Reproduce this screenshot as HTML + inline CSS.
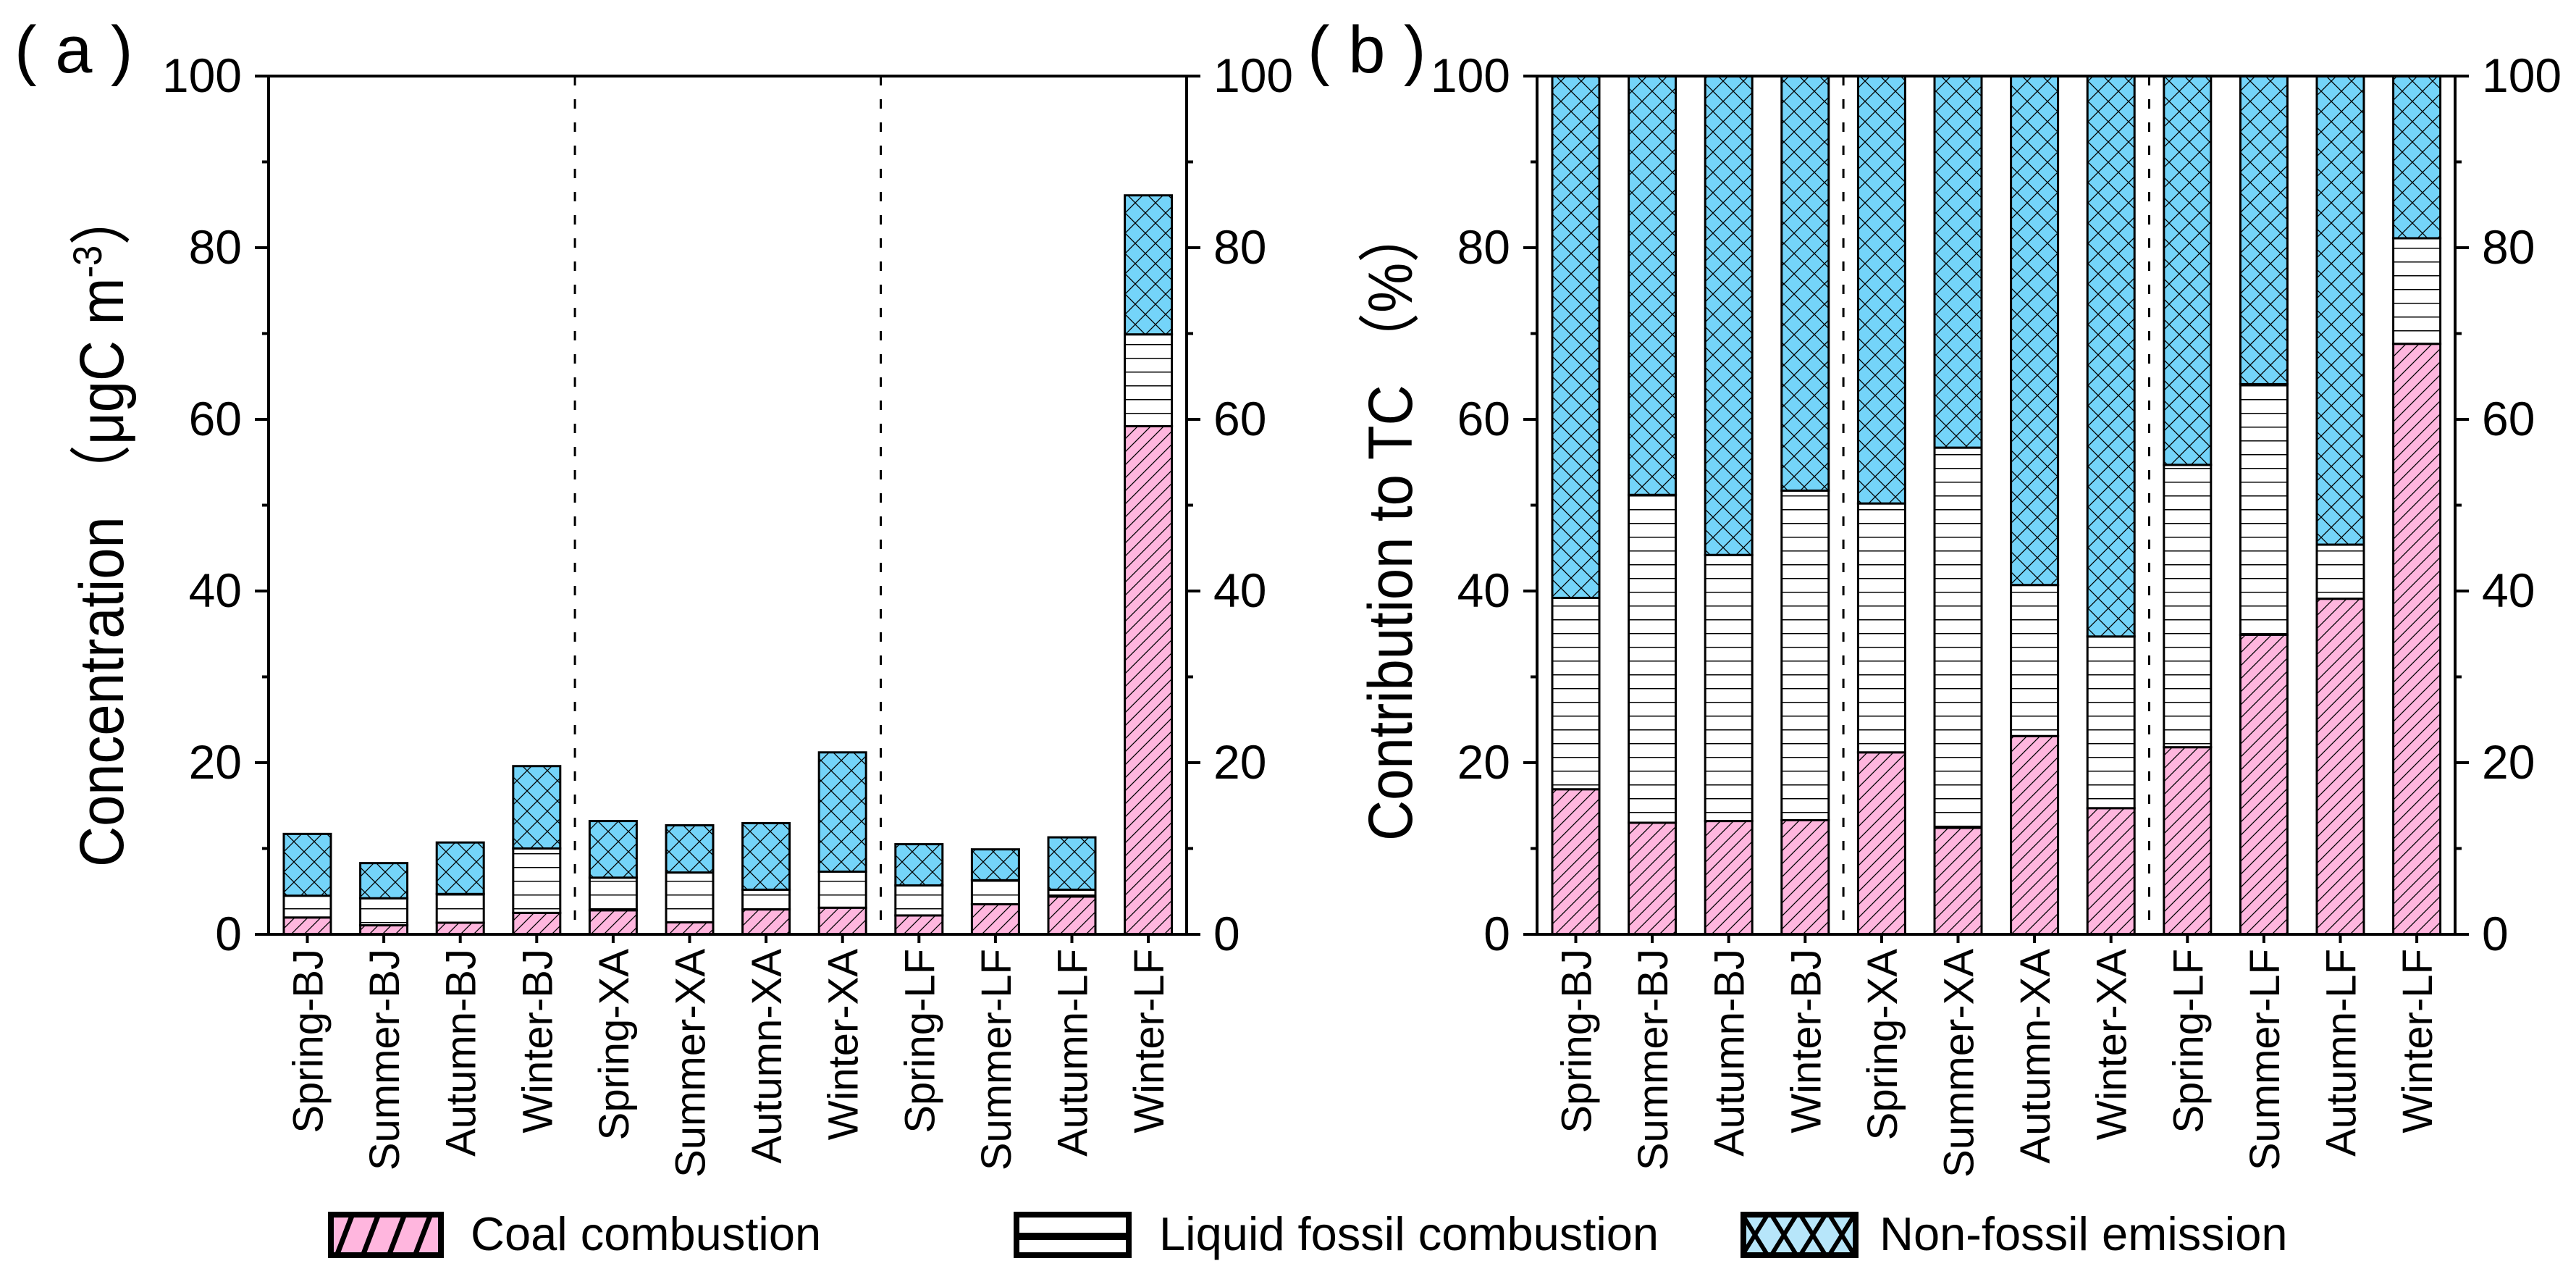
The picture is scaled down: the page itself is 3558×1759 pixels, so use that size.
<!DOCTYPE html>
<html><head><meta charset="utf-8"><style>
html,body{margin:0;padding:0;background:#fff;}
svg{display:block;font-family:"Liberation Sans","Noto Sans CJK SC",sans-serif;}
</style></head><body>
<svg id="chart" xmlns="http://www.w3.org/2000/svg" width="3558" height="1759" viewBox="0 0 3558 1759">
<defs>
<pattern id="pCoal" patternUnits="userSpaceOnUse" width="18" height="18">
<rect width="18" height="18" fill="#FFB6DE"/>
<path d="M-2,20 L20,-2 M-2,2 L2,-2 M16,20 L20,16" stroke="#000" stroke-width="1.3"/>
</pattern>
<pattern id="pLiq" patternUnits="userSpaceOnUse" width="20" height="19">
<rect width="20" height="19" fill="#fff"/>
<line x1="0" y1="0.5" x2="20" y2="0.5" stroke="#000" stroke-width="2"/>
</pattern>
<pattern id="pNon" patternUnits="userSpaceOnUse" width="28" height="28">
<rect width="28" height="28" fill="#74D4F9"/>
<path d="M0,0 L28,28 M28,0 L0,28" stroke="#000" stroke-width="1.3"/>
</pattern>
<pattern id="lgCoal" patternUnits="userSpaceOnUse" width="36" height="64" x="453" y="1673">
<rect width="36" height="64" fill="#FFB6DE"/>
<path d="M10,66 L36,-2" stroke="#000" stroke-width="7"/>
</pattern>
<pattern id="lgNon" patternUnits="userSpaceOnUse" width="40" height="64" x="2404" y="1673">
<rect width="40" height="64" fill="#B7E6FA"/>
<path d="M0,0 L40,64 M40,0 L0,64" stroke="#000" stroke-width="6"/>
</pattern>
</defs>
<g id="plots"></g>
<g>
<g>
<rect x="457" y="1677" width="152" height="56" fill="url(#lgCoal)" stroke="#000" stroke-width="8"/>
<text x="650" y="1726" font-size="65">Coal combustion</text>
</g>
<g>
<rect x="1404" y="1677" width="155" height="56" fill="#fff" stroke="#000" stroke-width="8"/>
<rect x="1404" y="1702" width="155" height="10" fill="#000"/>
<text x="1601" y="1726" font-size="65">Liquid fossil combustion</text>
</g>
<g>
<rect x="2408" y="1677" width="155" height="56" fill="url(#lgNon)" stroke="#000" stroke-width="8"/>
<text x="2596" y="1726" font-size="65">Non-fossil emission</text>
</g>
</g>
</svg>
<script>
const categories = ["Spring-BJ","Summer-BJ","Autumn-BJ","Winter-BJ","Spring-XA","Summer-XA","Autumn-XA","Winter-XA","Spring-LF","Summer-LF","Autumn-LF","Winter-LF"];
// panel (a) concentrations, ugC m-3
const concCoal = [1.96,1.05,1.35,2.5,2.8,1.4,2.9,3.1,2.2,3.5,4.4,59.2];
const concLiquid = [2.54,3.15,3.35,7.5,3.8,5.8,2.3,4.2,3.5,2.8,0.8,10.7];
const concNonFossil = [7.2,4.1,6.0,9.6,6.6,5.5,7.75,13.9,4.8,3.6,6.1,16.2];
// panel (b) contributions, %
const pctCoal = [16.9,13.0,13.2,13.3,21.2,12.4,23.1,14.7,21.8,34.9,39.1,68.8];
const pctLiquid = [22.3,38.2,31.0,38.4,29.0,44.3,17.6,20.0,32.9,29.2,6.3,12.3];
const pctNonFossil = [60.8,48.8,55.8,48.3,49.8,43.3,59.3,65.3,45.3,35.9,54.6,18.9];
const yTicks = [0,20,40,60,80,100];
const yMinor = [10,30,50,70,90];
const groupBreaks = [4,8];

const NS = "http://www.w3.org/2000/svg";
const root = document.getElementById("plots");
function mk(tag, attrs, parent){
  const e = document.createElementNS(NS, tag);
  for (const k in attrs) e.setAttribute(k, attrs[k]);
  (parent||root).appendChild(e);
  return e;
}
const Y0 = 1290, Y100 = 105;
function yS(v){ return Y0 - (Y0 - Y100) * v / 100; }

function panel(opt){
  const g = mk("g", {});
  
  
  const L = opt.left, R = opt.left + 1268, step = 105.6, bw = 65;
  function xC(i){ return L + 53.5 + i * step; }
  // bars
  const series = [[opt.s1,"url(#pCoal)","coal"],[opt.s2,"url(#pLiq)","liquid"],[opt.s3,"url(#pNon)","nonfossil"]];
  categories.forEach((c,i)=>{
    let base = 0;
    series.forEach(s=>{
      const v = s[0][i];
      const r = mk("rect", {x: xC(i)-bw/2, y: yS(base+v), width: bw, height: yS(base)-yS(base+v), fill: s[1], stroke:"#000", "stroke-width":3}, g);
      
      
      base += v;
    });
  });
  // dashed separators
  groupBreaks.forEach(b=>{
    const x = (xC(b-1) + xC(b)) / 2;
    const d = mk("line", {x1:x, x2:x, y1:Y100, y2:Y0, stroke:"#000", "stroke-width":3, "stroke-dasharray":"13 19"}, g);
    
    
  });
  // frame
  const f = mk("rect", {x:L, y:Y100, width:R-L, height:Y0-Y100, fill:"none", stroke:"#000", "stroke-width":4}, g);
  
  
  // y ticks
  yTicks.forEach(t=>{
    const y = yS(t);
    mk("line", {x1:L-19, x2:L, y1:y, y2:y, stroke:"#000", "stroke-width":4}, g);
    mk("line", {x1:R, x2:R+19, y1:y, y2:y, stroke:"#000", "stroke-width":4}, g);
    const tl = mk("text", {x:L-37, y:y+22, "font-size":66, "text-anchor":"end"}, g);
    tl.textContent = t;
    
    
    const tr = mk("text", {x:R+37, y:y+22, "font-size":66}, g);
    tr.textContent = t;
    
    
  });
  yMinor.forEach(t=>{
    const y = yS(t);
    mk("line", {x1:L-9, x2:L, y1:y, y2:y, stroke:"#000", "stroke-width":4}, g);
    mk("line", {x1:R, x2:R+9, y1:y, y2:y, stroke:"#000", "stroke-width":4}, g);
  });
  // x ticks & labels
  categories.forEach((c,i)=>{
    const x = xC(i);
    mk("line", {x1:x, x2:x, y1:Y0, y2:Y0+12, stroke:"#000", "stroke-width":4}, g);
    const t = mk("text", {x:0, y:0, "font-size":58, "text-anchor":"end", transform:`translate(${x+21},${Y0+20}) rotate(-90)`}, g);
    t.textContent = c;
    
    
  });
  // y title
  const yt = mk("text", {x:0, y:0, "font-size":86, "text-anchor":"middle", transform:`translate(${opt.titleX},${opt.titleY}) rotate(-90)`, textLength:opt.titleLen, lengthAdjust:"spacingAndGlyphs"}, g);
  yt.innerHTML = opt.title;
  
  
  const pl = mk("text", {x:opt.labX, y:100, "font-size":92}, g);
  pl.textContent = opt.lab;
  
  
}
panel({name:"panel-a-concentration", left:371, s1:concCoal, s2:concLiquid, s3:concNonFossil,
  title:'Concentration （μgC m<tspan dy="-30" font-size="56">-3</tspan><tspan dy="30">）</tspan>', titleX:170, titleY:729, titleLen:936, lab:"( a )", labX:20});
panel({name:"panel-b-contribution", left:2123, s1:pctCoal, s2:pctLiquid, s3:pctNonFossil,
  title:'Contribution to TC （%）', titleX:1950, titleY:723, titleLen:876, lab:"( b )", labX:1806});
</script>
</body></html>
